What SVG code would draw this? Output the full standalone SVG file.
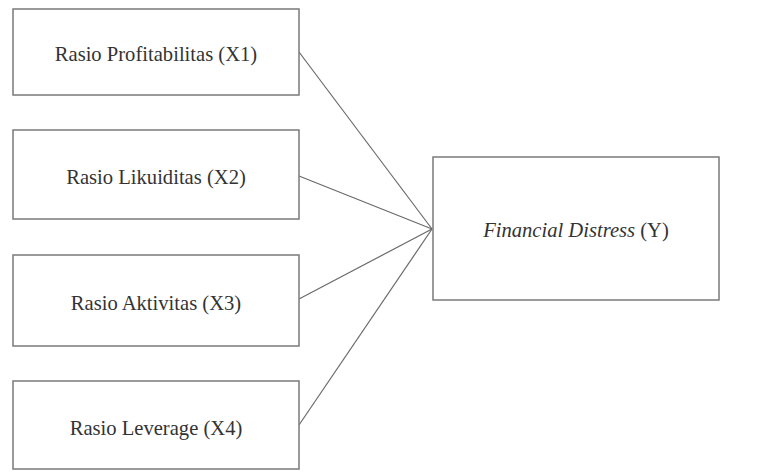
<svg xmlns="http://www.w3.org/2000/svg" width="766" height="472" viewBox="0 0 766 472">
<style>
.box{fill:#fff;stroke:#7a7a7a;stroke-width:1.5}
.t{font-family:"Liberation Serif","Times New Roman",serif;font-size:20.6px;fill:#333;text-anchor:middle}
.c{stroke:#6a6a6a;stroke-width:1.2;fill:none}
</style>
<rect width="766" height="472" fill="#fff"/>
<g id="connectors">
<line class="c" x1="299" y1="52" x2="432" y2="229"/>
<line class="c" x1="299" y1="176" x2="432" y2="229"/>
<line class="c" x1="299" y1="299" x2="432" y2="229"/>
<line class="c" x1="299" y1="425" x2="432" y2="229"/>
</g>
<g id="x1"><rect class="box" x="13" y="9" width="286" height="86"/><text class="t" x="156" y="61">Rasio Profitabilitas (X1)</text></g>
<g id="x2"><rect class="box" x="13" y="130" width="286" height="89"/><text class="t" x="156" y="184">Rasio Likuiditas (X2)</text></g>
<g id="x3"><rect class="box" x="13" y="255" width="286" height="91"/><text class="t" x="156" y="310">Rasio Aktivitas (X3)</text></g>
<g id="x4"><rect class="box" x="13" y="381" width="286" height="88"/><text class="t" x="156" y="435">Rasio Leverage (X4)</text></g>
<g id="y"><rect class="box" x="433" y="157" width="286" height="143"/><text class="t" x="576" y="237"><tspan font-style="italic">Financial Distress</tspan> (Y)</text></g>
</svg>
